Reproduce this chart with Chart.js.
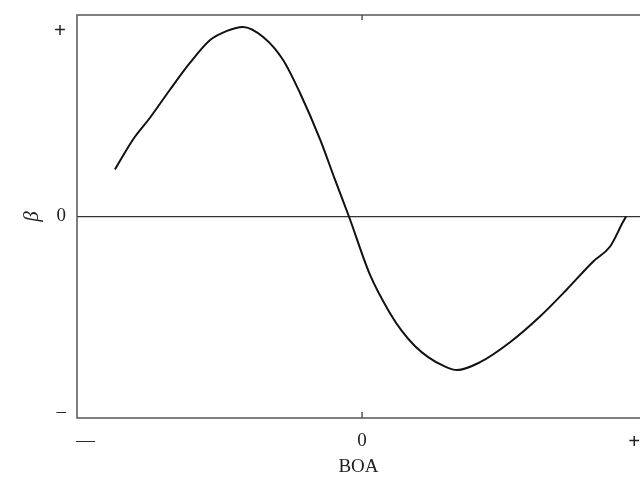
<!DOCTYPE html>
<html>
<head>
<meta charset="utf-8">
<script src="https://cdn.jsdelivr.net/npm/chart.js@4"></script>
<style>
  html, body { margin: 0; padding: 0; background: #fff; }
  #wrap { width: 640px; height: 480px; }
</style>
</head>
<body>
<div id="wrap"><canvas id="chart" width="640" height="480"></canvas></div>
<script>
// BOA (x) and beta (y), in axis units (-1..+1)
const boaValues = [-0.867, -0.804, -0.744, -0.674, -0.604, -0.533, -0.474, -0.418, -0.347, -0.277,
  -0.218, -0.147, -0.095, -0.046, 0.028, 0.098, 0.140, 0.186, 0.232, 0.281, 0.333, 0.414,
  0.519, 0.625, 0.719, 0.811, 0.870, 0.916, 0.926];
const betaValues = [0.233, 0.381, 0.49, 0.629, 0.762, 0.876, 0.921, 0.941, 0.891, 0.777,
  0.614, 0.381, 0.183, 0, -0.29, -0.48, -0.569, -0.644, -0.698, -0.738, -0.762, -0.723,
  -0.624, -0.495, -0.361, -0.223, -0.149, -0.025, 0];

// tick positions and their labels
const xTickValues = [-0.97, 0, 0.955];
const xTickLabels = ["\u2014", "0", "+"];
const yTickValues = [-0.97, 0, 0.92];
const yTickLabels = ["\u2013", "0", "+"];

const serif = "'Liberation Serif'";

// box round the plot (left, top, bottom) plus the little marks at BOA = 0
const framePlugin = {
  id: "frame",
  afterDraw(chart) {
    const { ctx, chartArea: a } = chart;
    const x0 = chart.scales.x.getPixelForValue(0);
    ctx.save();
    ctx.strokeStyle = "#555";
    ctx.lineWidth = 1.5;
    ctx.beginPath();
    ctx.moveTo(a.right, a.top);
    ctx.lineTo(a.left, a.top);
    ctx.lineTo(a.left, a.bottom);
    ctx.lineTo(a.right, a.bottom);
    ctx.moveTo(x0, a.bottom);
    ctx.lineTo(x0, a.bottom - 6);
    ctx.moveTo(x0, a.top);
    ctx.lineTo(x0, a.top + 5);
    ctx.stroke();
    ctx.restore();
  },
};

// no extra room for tick labels past the plot edges
function noPadding(scale) {
  scale.paddingLeft = 0;
  scale.paddingRight = 0;
  scale.paddingTop = 0;
  scale.paddingBottom = 0;
}

// the "+" signs are printed heavier than the other labels
function tickFont(c) {
  const plus = c.tick && c.tick.label === "+";
  return { family: serif, size: plus ? 21 : 19, weight: plus ? "bold" : "normal" };
}

new Chart(document.getElementById("chart"), {
  type: "line",
  data: {
    datasets: [
      {
        data: boaValues.map((x, i) => ({ x: x, y: betaValues[i] })),
        borderColor: "#111",
        borderWidth: 2,
        pointRadius: 0,
        cubicInterpolationMode: "monotone",
        fill: false,
      },
    ],
  },
  options: {
    responsive: false,
    animation: false,
    layout: { padding: { top: 15, right: 0, left: 0, bottom: 0 } },
    plugins: { legend: { display: false }, tooltip: { enabled: false } },
    scales: {
      x: {
        type: "linear",
        min: -1,
        max: 0.975,
        afterFit(scale) { scale.height = 62; noPadding(scale); },
        afterBuildTicks(scale) { scale.ticks = xTickValues.map((v) => ({ value: v })); },
        grid: { display: false, drawTicks: false },
        border: { display: false },
        ticks: {
          padding: 12,
          color: "#222",
          font: tickFont,
          callback: (v) => xTickLabels[xTickValues.indexOf(v)],
        },
        title: {
          display: true,
          text: "BOA",
          color: "#222",
          font: { family: serif, size: 19 },
          padding: { top: 0, bottom: 2 },
        },
      },
      y: {
        type: "linear",
        min: -1,
        max: 1,
        afterFit(scale) { scale.width = 77; noPadding(scale); },
        afterBuildTicks(scale) { scale.ticks = yTickValues.map((v) => ({ value: v })); },
        grid: {
          drawTicks: false,
          lineWidth: 1.2,
          color: (c) => (c.tick && c.tick.value === 0 ? "#333" : "rgba(0,0,0,0)"),
        },
        border: { display: false },
        ticks: {
          padding: 11,
          color: "#222",
          font: tickFont,
          callback: (v) => yTickLabels[yTickValues.indexOf(v)],
        },
        title: {
          display: true,
          text: "\u03b2",
          color: "#222",
          font: { family: serif, size: 21, style: "italic" },
          padding: { top: 20, bottom: 0 },
        },
      },
    },
  },
  plugins: [framePlugin],
});
</script>
</body>
</html>
